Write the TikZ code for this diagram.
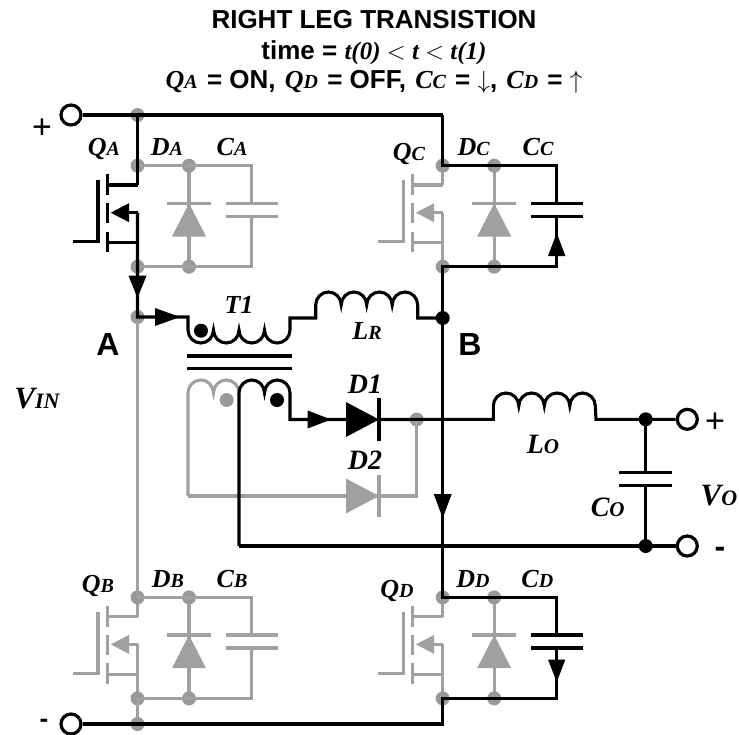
\documentclass[tikz,border=0pt]{standalone}
\usepackage{fontspec}
\setmainfont{Liberation Sans}
\newfontfamily\ser{Liberation Serif}
\definecolor{gry}{HTML}{A0A0A0}
\definecolor{gdt}{HTML}{999999}
\newcommand\lab[2]{{\ser\bfseries\itshape\fontsize{26}{26}\selectfont #1\fontsize{20}{20}\selectfont #2}}
\newcommand\labo[2]{{\ser\bfseries\itshape\fontsize{28}{28}\selectfont #1\fontsize{21}{21}\selectfont #2}}
\newcommand\labv[2]{{\ser\bfseries\itshape\fontsize{31}{31}\selectfont #1\fontsize{22}{22}\selectfont #2}}
\newcommand\sans[2][26]{{\fontsize{#1}{#1}\selectfont\bfseries #2}}
\tikzset{
  x=1pt,y=-1pt,
  w/.style={line width=3.1pt,line join=miter,line cap=butt},
  kw/.style={w,draw=black},
  gw/.style={w,draw=gry},
  gdot/.style={circle,fill=gdt,inner sep=0pt,minimum size=14pt},
  kdot/.style={circle,fill=black,inner sep=0pt,minimum size=14pt},
  term/.style={circle,draw=black,line width=3.2pt,fill=white,inner sep=0pt,minimum size=20pt},
  lb/.style={anchor=base,inner sep=0pt,outer sep=0pt},
}
% up / down coil arcs
\def\U{arc[start angle=180,end angle=0,x radius=12.75pt,y radius=13pt]}
\def\D{arc[start angle=180,end angle=360,x radius=12.75pt,y radius=13pt]}
% MOSFET: #1 name, #2 colour style
\newcommand\mosfet[2]{%
  \coordinate (#1dr) at (137.5,185);
  \coordinate (#1so) at (137.5,242.7);
  \coordinate (#1mi) at (137.5,212.7);
  \coordinate (#1ch) at (107.7,212.7);
  \draw[#2] (98,180) -- (98,241.7) -- (73,241.7);
  \draw[#2] (107.7,174) -- (107.7,195);
  \draw[#2] (107.7,203) -- (107.7,223);
  \draw[#2] (107.7,231.7) -- (107.7,252);
  \draw[#2] (107.7,185) -- (#1dr);
  \draw[#2] (107.7,242.7) -- (#1so);
  \draw[#2] (125,212.7) -- (#1mi);
}
% gray diode with junctions
\newcommand\dcell[1]{%
  \coordinate (#1t) at (137.5,165.7);
  \coordinate (#1b) at (137.5,266.7);
  \coordinate (#1dt) at (189,165.7);
  \coordinate (#1db) at (189,266.7);
  \coordinate (#1ct) at (251.5,165.7);
  \coordinate (#1cb) at (251.5,266.7);
  \coordinate (#1p) at (251.5,203.3);
  \coordinate (#1q) at (251.5,216.3);
  \draw[gw] (#1dt) -- (#1db);
  \draw[gw] (167,203.3) -- (210.5,203.3);
  \fill[gry] (189,203.3) -- (206,236.5) -- (172,236.5) -- cycle;
  \node[gdot] (#1td) at (#1t) {};
  \node[gdot] (#1bd) at (#1b) {};
  \node[gdot] (#1dtd) at (#1dt) {};
  \node[gdot] (#1dbd) at (#1db) {};
}
\newcommand\plates[2]{%
  \draw[#2] (225.5,203.3) -- (278,203.3);
  \draw[#2] (225.5,216.3) -- (278,216.3);
}
\begin{document}
\begin{tikzpicture}
\useasboundingbox (0,0) rectangle (739,734);
% ---- title
\node[lb] (title1) at (374,28) {\sans{RIGHT LEG TRANSISTION}};
\node[lb] (title2) at (374,59) {\sans{time = }{\ser\bfseries\itshape\fontsize{25}{25}\selectfont t(0) {\upshape\mdseries$<$} t {\upshape\mdseries$<$} t(1)}};
\node[lb] (title3) at (374,88) {\lab{Q}{A}\sans{\hspace{2pt} = ON,\hspace{2pt} }\lab{Q}{D}\sans{\hspace{2pt} = OFF,\hspace{2pt} }\lab{C}{C}\sans{\hspace{2pt} = }{\fontsize{24}{24}\selectfont$\downarrow$}\sans{,\hspace{2pt} }\lab{C}{D}\sans{\hspace{2pt} = }{\fontsize{24}{24}\selectfont$\uparrow$}};
% ---- gray layer: QA cell
\dcell{a}
\draw[gw] (at) -- (act) -- (ap);
\draw[gw] (aq) -- (acb) -- (ab);
\draw[gw] (ab) -- (adb);
\plates{a}{gw}
% ---- QC
\begin{scope}[shift={(305.2,0)}]
  \mosfet{c}{gw}
  \fill[gry] (110.7,212.7) -- (129,203.2) -- (129,222.2) -- cycle;
  \draw[gw] (137.5,165.7) -- (cdr);
  \draw[gw] (cmi) -- (137.5,266.7);
  \dcell{c}
\end{scope}
% ---- QB
\begin{scope}[shift={(0,431.7)}]
  \mosfet{b}{gw}
  \fill[gry] (110.7,212.7) -- (129,203.2) -- (129,222.2) -- cycle;
  \draw[gw] (137.5,165.7) -- (bdr);
  \draw[gw] (bmi) -- (137.5,266.7);
  \dcell{b}
  \draw[gw] (bt) -- (bct) -- (bp);
  \draw[gw] (bq) -- (bcb) -- (bb);
  \plates{b}{gw}
\end{scope}
% ---- QD
\begin{scope}[shift={(305.2,431.7)}]
  \mosfet{d}{gw}
  \fill[gry] (110.7,212.7) -- (129,203.2) -- (129,222.2) -- cycle;
  \draw[gw] (137.5,165.7) -- (ddr);
  \draw[gw] (dmi) -- (137.5,266.7);
  \dcell{d}
\end{scope}
% ---- gray left leg, junctions, secondary
\coordinate (A) at (137.5,317);
\coordinate (rt) at (137.5,115);
\coordinate (rb) at (137.5,724);
\coordinate (g1) at (188,496);
\coordinate (g2) at (416.7,496);
\coordinate (g3) at (416.7,419.5);
\draw[gw] (A) -- (bt);
\draw[gw] (bb) -- (rb);
\node[gdot] (Ad) at (A) {};
\node[gdot] (rtd) at (rt) {};
\node[gdot] (rbd) at (rb) {};
\node[gdot] (g3d) at (g3) {};
\node[gdot] (sgd) at (226.7,400) {};
% gray half of the secondary winding and D2
\draw[gw] (g1) -- (188,393) \U \U;
\draw[gw] (g1) -- (g2) -- (g3);
\fill[gry] (346,478.5) -- (379,496) -- (346,513.5) -- cycle;
\draw[gw] (379,475) -- (379,517);
% ---- black layer
\node[term] (tp) at (71,115) {};
\node[term] (tm) at (71,724) {};
\node[term] (op) at (687.3,419.3) {};
\node[term] (om) at (687.3,546) {};
\coordinate (B) at (442.7,318);
\coordinate (railR) at (442.7,115);
\coordinate (railB) at (442.7,724);
\coordinate (T) at (239,546);
\coordinate (Oa) at (645.7,419.3);
\coordinate (Ob) at (645.7,546);
% QA mosfet in black
\mosfet{q}{kw}
\fill (110.7,212.7) -- (129,203.2) -- (129,222.2) -- cycle;
\draw[kw] (tp) -- (railR);
\draw[kw] (rt) -- (qdr);
\draw[kw] (qmi) -- (A) -- (188,317) -- (188,330) \D \D \D \D -- (290,318) -- (315.7,318) -- (315.7,305) \U \U \U \U -- (417.7,318) -- (B);
\fill (128.5,275.7) -- (146.5,275.7) -- (137.5,298) -- cycle;
\fill (155,308) -- (180,317) -- (155,326) -- cycle;
% right leg
\draw[kw] (railR) -- (ct) -- (cct) -- (556.7,203.3);
\begin{scope}[shift={(305.2,0)}]\plates{c}{kw}\end{scope}
\draw[kw] (556.7,216.3) -- (556.7,266.7) -- (cb) -- (dt) -- (dct) -- (556.7,635);
\begin{scope}[shift={(305.2,431.7)}]\plates{d}{kw}\end{scope}
\draw[kw] (556.7,648) -- (dcb) -- (db) -- (railB) -- (tm);
\fill (556.7,233) -- ++(8.7,23) -- ++(-17.4,0) -- cycle;
\fill (548,659.5) -- (565.4,659.5) -- (556.7,682) -- cycle;
\fill (433.7,494) -- (451.7,494) -- (442.7,518) -- cycle;
% transformer core
\draw[kw] (187,356) -- (291.7,356);
\draw[kw] (187,368.7) -- (291.7,368.7);
\node[kdot] (pd) at (201,330.7) {};
\node[kdot] (sd) at (277,400) {};
% secondary black
\coordinate (D1a) at (346,419.5);
\coordinate (D1k) at (379,419.5);
\coordinate (Lo1) at (493.3,419.3);
\draw[kw] (T) -- (239,393) \U \U -- (290,419.5) -- (D1a);
\fill (307.7,410.5) -- (331,419.5) -- (307.7,428.5) -- cycle;
\fill (346,402) -- (379,419.5) -- (346,437) -- cycle;
\draw[kw] (379,398) -- (379,441);
\draw[kw] (D1k) -- (Lo1) -- (493.3,406) \U \U \U \U -- (596,419.3) -- (op);
\draw[kw] (T) -- (om);
\draw[kw] (Oa) -- (645.7,472.7);
\draw[kw] (645.7,485.3) -- (Ob);
\draw[kw] (619.3,472.7) -- (672.3,472.7);
\draw[kw] (619.3,485.3) -- (672.3,485.3);
\node[kdot] (Bd) at (B) {};
\node[kdot] (Oad) at (Oa) {};
\node[kdot] (Obd) at (Ob) {};
% ---- labels
\node[lb] (lQA) at (104,155) {\lab{Q}{A}};
\node[lb] (lDA) at (167,155) {\lab{D}{A}};
\node[lb] (lCA) at (232,155) {\lab{C}{A}};
\node[lb] (lQC) at (409,160.7) {\lab{Q}{C}};
\node[lb] (lDC) at (473.7,155) {\lab{D}{C}};
\node[lb] (lCC) at (538,155) {\lab{C}{C}};
\node[lb] (lQB) at (98,592) {\lab{Q}{B}};
\node[lb] (lDB) at (168,587) {\lab{D}{B}};
\node[lb] (lCB) at (232,587) {\lab{C}{B}};
\node[lb] (lQD) at (397,597.7) {\lab{Q}{D}};
\node[lb] (lDD) at (473,587) {\lab{D}{D}};
\node[lb] (lCD) at (537.3,587) {\lab{C}{D}};
\node[lb] (lT1) at (239,313) {\lab{T1}{}};
\node[lb] (lLR) at (367,339) {\lab{L}{R}};
\node[lb] (lD1) at (365,393) {\labo{D1}{}};
\node[lb] (lD2) at (365,469) {\labo{D2}{}};
\node[lb] (lLO) at (543,453) {\labo{L}{O}};
\node[lb] (lCO) at (607.7,516) {\labo{C}{O}};
\node[lb] (lVO) at (719,505) {\labv{V}{O}};
\node[lb] (lVI) at (37,408) {\labv{V}{IN}};
\node[lb] (lAa) at (108,355) {\sans[32]{A}};
\node[lb] (lBb) at (470,355) {\sans[32]{B}};
\node[lb] (lpl) at (42,138) {{\fontsize{34}{34}\selectfont +}};
\node[lb] (lpr) at (715,432) {{\fontsize{34}{34}\selectfont +}};
\node[lb] (lml) at (44,727) {\sans[26]{-}};
\node[lb] (lmr) at (720,557) {\sans[32]{-}};
\end{tikzpicture}
\end{document}
